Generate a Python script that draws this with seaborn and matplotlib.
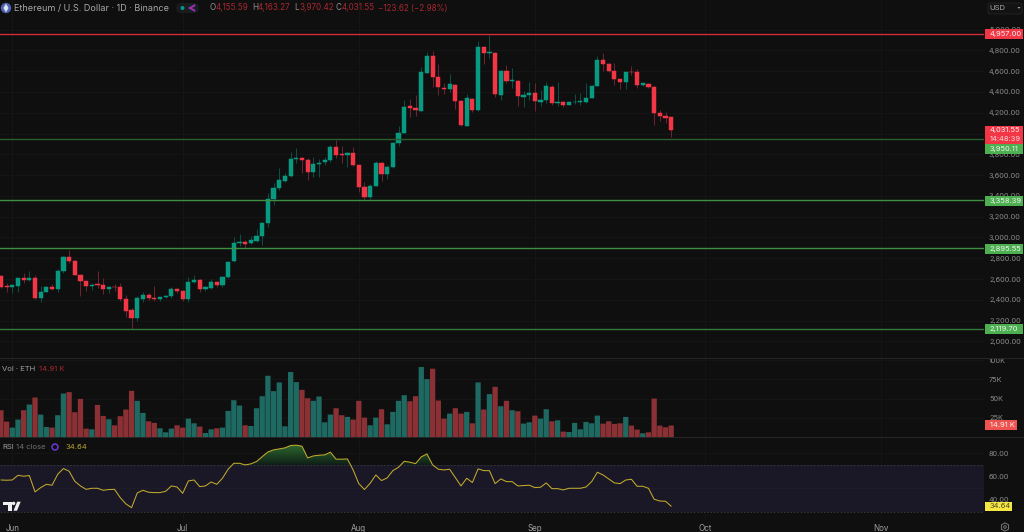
import numpy as np
import pandas as pd
import seaborn as sns
import matplotlib
matplotlib.use("Agg")
import matplotlib.pyplot as plt
from matplotlib.colors import LinearSegmentedColormap
from matplotlib.patches import Rectangle, Circle, Polygon, FancyBboxPatch, RegularPolygon
from matplotlib.path import Path
from matplotlib.ticker import FuncFormatter
from matplotlib.transforms import Affine2D

# ETH/USD daily session data, day 0 = 1 June
days = list(range(-2, 117))

open_ = [2630, 2530, 2524, 2533, 2607, 2591, 2607, 2415, 2479, 2524, 2508, 2678, 2815, 2770, 2639, 2578, 2533,
         2549, 2543, 2508, 2527, 2520, 2405, 2299, 2226, 2411, 2447, 2421, 2411, 2424, 2434, 2501, 2482, 2405,
         2572, 2591, 2504, 2517, 2572, 2540, 2617, 2770, 2950, 2956, 2944, 2969, 3014, 3136, 3367, 3479, 3546,
         3591, 3751, 3764, 3745, 3630, 3707, 3723, 3742, 3873, 3800, 3793, 3809, 3694, 3485, 3393, 3498, 3716,
         3610, 3681, 3905, 4008, 4261, 4245, 4220, 4582, 4745, 4547, 4434, 4425, 4470, 4312, 4075, 4332, 4226,
         4829, 4777, 4777, 4373, 4601, 4508, 4508, 4354, 4370, 4390, 4306, 4322, 4450, 4297, 4303, 4274, 4303,
         4303, 4303, 4345, 4460, 4710, 4665, 4604, 4524, 4499, 4595, 4588, 4466, 4479, 4447, 4197, 4165, 4155.59]
high = [2639, 2559, 2543, 2613, 2655, 2678, 2639, 2533, 2533, 2553, 2694, 2822, 2879, 2783, 2649, 2585, 2559,
        2681, 2613, 2533, 2553, 2565, 2447, 2318, 2437, 2479, 2463, 2533, 2431, 2447, 2520, 2511, 2495, 2617,
        2636, 2597, 2533, 2604, 2585, 2630, 2777, 3001, 3033, 2976, 3014, 3078, 3149, 3425, 3521, 3671, 3617,
        3819, 3857, 3777, 3761, 3777, 3751, 3771, 3889, 3937, 3880, 3825, 3873, 3700, 3537, 3514, 3739, 3723,
        3694, 3921, 4072, 4322, 4329, 4370, 4636, 4787, 4793, 4668, 4482, 4572, 4476, 4322, 4380, 4338, 4890,
        4835, 4947, 4781, 4611, 4659, 4627, 4511, 4412, 4492, 4482, 4418, 4492, 4466, 4492, 4309, 4309, 4380,
        4386, 4482, 4466, 4745, 4771, 4681, 4675, 4528, 4595, 4649, 4617, 4489, 4489, 4457, 4226, 4203, 4163.27]
low = [2511, 2479, 2469, 2479, 2565, 2585, 2405, 2383, 2472, 2495, 2479, 2655, 2751, 2636, 2440, 2488, 2495,
       2511, 2456, 2469, 2488, 2392, 2232, 2120, 2197, 2383, 2399, 2392, 2392, 2415, 2421, 2463, 2392, 2379,
       2559, 2479, 2488, 2501, 2520, 2527, 2610, 2764, 2918, 2896, 2937, 2960, 2931, 3104, 3312, 3457, 3537,
       3578, 3713, 3623, 3553, 3585, 3585, 3697, 3729, 3761, 3713, 3681, 3691, 3441, 3373, 3367, 3495, 3543,
       3562, 3665, 3880, 4002, 4162, 4168, 4216, 4579, 4450, 4370, 4380, 4402, 4232, 4072, 4072, 4207, 4220,
       4665, 4723, 4348, 4322, 4482, 4434, 4264, 4258, 4322, 4220, 4264, 4290, 4271, 4264, 4252, 4271, 4284,
       4274, 4290, 4338, 4457, 4604, 4595, 4466, 4428, 4428, 4563, 4441, 4460, 4441, 4078, 4120, 4098, 3970.42]
close = [2527, 2527, 2540, 2607, 2591, 2607, 2415, 2479, 2527, 2504, 2681, 2815, 2770, 2642, 2578, 2530, 2546,
         2543, 2508, 2524, 2520, 2405, 2296, 2229, 2415, 2450, 2418, 2411, 2424, 2434, 2501, 2485, 2405, 2572,
         2591, 2508, 2520, 2572, 2543, 2617, 2767, 2950, 2956, 2940, 2973, 3014, 3139, 3370, 3476, 3550, 3594,
         3755, 3764, 3745, 3630, 3707, 3719, 3742, 3873, 3793, 3796, 3809, 3697, 3489, 3393, 3498, 3719, 3610,
         3681, 3909, 4008, 4258, 4248, 4226, 4588, 4745, 4547, 4444, 4425, 4473, 4312, 4078, 4338, 4223, 4829,
         4777, 4781, 4380, 4601, 4508, 4511, 4357, 4370, 4393, 4312, 4322, 4454, 4297, 4306, 4274, 4303, 4306,
         4309, 4345, 4460, 4710, 4665, 4604, 4524, 4499, 4592, 4592, 4470, 4482, 4447, 4200, 4165, 4152, 4031.55]

volume_k = [34.8, 20, 12.2, 22.6, 34.8, 42.2, 51.3, 29.1, 13, 12.2, 28.3, 56.5, 58.3, 32.2, 49.6, 10.9, 10,
            41.7, 27.4, 23, 15.2, 27, 35.7, 60, 47, 31.3, 20.4, 18.3, 11.3, 6.1, 10.9, 15.2, 12.2, 23.9,
            17.8, 13.5, 5.2, 10, 11.3, 12.2, 33.9, 47.8, 40.9, 15.2, 14.3, 37.4, 53, 79.6, 59.6, 70.9, 13.9,
            84.4, 71.3, 61.3, 50.4, 47, 52.6, 19.1, 29.1, 37.4, 28.3, 26.1, 22.6, 47, 25.2, 15.2, 25.2, 36.1,
            16.5, 32.6, 47, 54.3, 46.5, 53, 90.9, 75.2, 88.7, 47.4, 23.9, 30.4, 37.4, 30.4, 32.6, 17.8, 70.9,
            35.7, 55.7, 65.2, 40, 47, 34.8, 33.5, 17.4, 19.1, 27.8, 23.9, 36.1, 20.4, 21.7, 7, 6.5, 18.3,
            10, 19.6, 17.8, 27.8, 17.4, 20.4, 17, 17.8, 26.1, 14.8, 9.6, 4.8, 6.1, 50, 14.8, 12.6, 14.91]

rsi = [57.1, 56.9, 57.1, 61.1, 60.3, 60.9, 46.9, 50.6, 53.4, 52.6, 62.0, 66.9, 64.6, 56.0, 52.0, 49.1, 50.0,
       50.0, 48.3, 48.9, 49.1, 42.0, 36.6, 33.4, 46.0, 48.3, 46.6, 46.3, 46.3, 47.4, 52.0, 51.1, 45.7, 56.3,
       57.1, 51.4, 52.0, 55.4, 53.4, 58.6, 66.3, 71.4, 71.4, 70.0, 70.9, 72.9, 77.1, 81.1, 82.9, 83.7, 84.6,
       86.6, 86.9, 86.0, 76.0, 77.7, 78.3, 78.6, 80.9, 74.9, 74.9, 75.1, 65.7, 54.0, 48.9, 54.3, 61.4, 56.6,
       58.9, 65.1, 68.0, 73.1, 72.3, 71.1, 76.9, 79.4, 70.0, 66.3, 65.7, 66.3, 59.1, 52.0, 58.6, 54.9, 66.6,
       65.1, 65.1, 54.0, 58.0, 55.7, 55.7, 52.0, 52.3, 52.6, 50.6, 50.9, 54.6, 49.7, 49.7, 48.6, 50.0, 50.0,
       50.0, 51.1, 55.7, 63.7, 61.4, 58.0, 54.6, 54.0, 57.1, 57.7, 51.7, 51.7, 50.0, 40.6, 39.1, 38.9, 34.64]

resistance_level = 4957.00
support_levels = [3950.11, 3358.39, 2895.55, 2119.70]
support_colors = ["#2c5f30", "#3f8f43", "#3f8f43", "#357a39"]

month_days = [0, 30, 61, 92, 122, 153]
month_names = ["Jun", "Jul", "Aug", "Sep", "Oct", "Nov"]
price_ticks = list(range(2000, 5001, 200))
volume_ticks = [25, 50, 75, 100]
rsi_ticks = [40, 60, 80]

BG = "#0f0f0f"
UP, DOWN = "#089981", "#f23645"
UP_WICK, DOWN_WICK = "#0a5248", "#6e2430"
VOL_UP, VOL_DOWN = "#1e6a62", "#8b3135"
GRID = "#161616"
TICK = "#8a8a8a"

sns.set_theme(style="dark", rc={"figure.facecolor": BG, "axes.facecolor": BG, "savefig.facecolor": BG})
plt.rcParams["font.family"] = ["Inter", "DejaVu Sans"]

W, H = 1024, 532
fig = plt.figure(figsize=(W / 100, H / 100), dpi=100)
px = Affine2D().scale(1 / W, -1 / H).translate(0, 1) + fig.transFigure


def panel(top, bottom):
    ax = fig.add_axes([0, 1 - bottom / H, 984 / W, (bottom - top) / H])
    for s in ax.spines.values():
        s.set_visible(False)
    ax.yaxis.tick_right()
    ax.tick_params(axis="y", length=0, pad=3.6, labelsize=5.3, labelcolor=TICK)
    ax.tick_params(axis="x", length=0, bottom=False, labelbottom=False)
    ax.set_xticks(month_days)
    ax.set_xlim(-2.1655, 171.07)
    ax.grid(True, color=GRID, linewidth=0.7)
    ax.set_axisbelow(True)
    return ax


ax_price = panel(0, 358.5)
ax_vol = panel(358.5, 437)
ax_rsi = panel(437, 519)

# Candles: wicks under bodies
d = np.array(days)
o, h, l, c = map(np.array, (open_, high, low, close))
rising = c >= o
ax_price.vlines(d, l, h, colors=np.where(rising, UP_WICK, DOWN_WICK), linewidth=0.7, zorder=2)
body_colors = np.where(rising, UP, DOWN)
ax_price.bar(d, np.abs(c - o), bottom=np.minimum(o, c), width=0.74, color=body_colors,
             edgecolor=body_colors, linewidth=0.35, zorder=3)
ax_price.axhline(resistance_level, color="#d42d3a", linewidth=1.0, zorder=4)
for level, col in zip(support_levels, support_colors):
    ax_price.axhline(level, color=col, linewidth=1.0, zorder=4)
ax_price.set_ylim(1836, 5284)
ax_price.set_yticks(price_ticks)
ax_price.yaxis.set_major_formatter(FuncFormatter(lambda v, _: f"{v:,.2f}"))

# Volume histogram
vol_df = pd.DataFrame({"day": days, "volume": volume_k, "side": np.where(rising, "up", "down")})
sns.barplot(data=vol_df, x="day", y="volume", hue="side", hue_order=["up", "down"],
            palette={"up": VOL_UP, "down": VOL_DOWN}, dodge=False, native_scale=True,
            width=0.93, saturation=1, linewidth=0, errorbar=None, legend=False, ax=ax_vol, zorder=2)
for bar in ax_vol.patches:
    bar.set_snap(False)
ax_vol.set_xlim(-2.1655, 171.07)
ax_vol.set_ylim(0, 102)
ax_vol.set_xlabel("")
ax_vol.set_ylabel("")
ax_vol.set_yticks(volume_ticks)
ax_vol.yaxis.tick_right()
ax_vol.yaxis.set_major_formatter(FuncFormatter(lambda v, _: f"{v:.0f}K"))

# RSI with its 30-70 band and the overbought gradient
rsi_arr = np.array(rsi)
ax_rsi.axhspan(30, 70, facecolor="#1a1726", edgecolor="none", zorder=1)
for lvl in (70, 30):
    ax_rsi.axhline(lvl, color="#3a3a42", linewidth=0.6, linestyle=(0, (2, 2)), zorder=2)
ax_rsi.axhline(50, color="#201e28", linewidth=0.6, zorder=2)
region = ax_rsi.fill_between(d, rsi_arr, 70, where=rsi_arr > 70, interpolate=True, facecolor="none", edgecolor="none")
overbought = LinearSegmentedColormap.from_list("overbought", ["#0f1f17", "#2f6e30"])
shade = ax_rsi.imshow(np.linspace(1, 0, 64).reshape(-1, 1), extent=[-3, 118, 70, 88], aspect="auto",
                      cmap=overbought, zorder=2.5)
shade.set_clip_path(Path.make_compound_path(*region.get_paths()), ax_rsi.transData)
sns.lineplot(x=d, y=rsi_arr, color="#c2ab2c", linewidth=0.75, ax=ax_rsi, zorder=3, errorbar=None)
ax_rsi.set_xlim(-2.1655, 171.07)
ax_rsi.set_ylim(23.7, 93.9)
ax_rsi.set_yticks(rsi_ticks)
ax_rsi.yaxis.set_major_formatter(FuncFormatter(lambda v, _: f"{v:.2f}"))
ax_rsi.set_xticks(month_days)
ax_rsi.set_xticklabels(month_names)
ax_rsi.tick_params(axis="x", labelbottom=True, labelsize=5.8, labelcolor="#a0a0a0", pad=3.5)


def rect(x0, y0, x1, y1, color):
    fig.add_artist(Rectangle((x0, y0), x1 - x0, y1 - y0, transform=px, facecolor=color, edgecolor="none"))


def label(x, y, s, color, size=5.3, ha="left", **kw):
    fig.text(x, y, s, transform=px, color=color, fontsize=size, ha=ha, va="center", **kw)


def badge(y0, y1, text, color, fg="#f4f4f4", x1=1023):
    rect(984.5, y0, x1, y1, color)
    label(989.5, (y0 + y1) / 2, text, fg, size=5.4)


# Panel dividers
rect(0, 358, W, 359, "#262626")
rect(0, 436.7, W, 437.5, "#262626")

# Price-scale badges
badge(29, 39, "4,957.00", DOWN)
rect(984.5, 126, 1023, 144, DOWN)
label(989.5, 130.2, "4,031.55", "#f4f4f4", size=5.4)
label(989.5, 139, "14:48:39", "#f4d9db", size=5.4)
badge(144, 153.5, "3,950.11", "#4caf50")
badge(195.5, 205.5, "3,358.39", "#4caf50")
badge(243.5, 253.5, "2,895.55", "#4caf50")
badge(324, 334, "2,119.70", "#4caf50")
badge(420, 430, "14.91 K", "#ef5350", x1=1017)
badge(501.5, 511, "34.64", "#f5e642", fg="#4a4a2a", x1=1012)

# USD selector and settings glyph
fig.add_artist(FancyBboxPatch((988, 3), 34, 11, boxstyle="round,pad=0,rounding_size=2", transform=px,
                              facecolor="#131313", edgecolor="#242424", linewidth=0.6))
label(989, 8, "USD", "#a8a8a8", size=5.5)
fig.add_artist(Polygon([(1017.5, 7), (1020.5, 7), (1019, 8.8)], transform=px, facecolor="#a8a8a8", edgecolor="none"))
fig.add_artist(RegularPolygon((1005, 527), 6, radius=4.2, transform=px, facecolor="none", edgecolor="#8a8a8a", linewidth=0.6))
fig.add_artist(Circle((1005, 527), 1.3, transform=px, facecolor="none", edgecolor="#8a8a8a", linewidth=0.6))

# Chart header
fig.add_artist(Circle((6, 8), 5.2, transform=px, facecolor="#5063ad", edgecolor="none"))
fig.add_artist(Polygon([(6, 3.8), (8.6, 8), (6, 12.2), (3.4, 8)], transform=px, facecolor="#dfe4f5", edgecolor="none"))
label(14, 8, "Ethereum / U.S. Dollar · 1D · Binance", "#a8a8a8", size=6.5)
fig.add_artist(FancyBboxPatch((176, 3), 23, 10, boxstyle="round,pad=0,rounding_size=5", transform=px,
                              facecolor="#181c1e", edgecolor="none"))
fig.add_artist(Circle((182.5, 8), 2, transform=px, facecolor=UP, edgecolor="none"))
fig.add_artist(Polygon([(195, 4.5), (188.5, 8), (195, 11.5), (195, 10), (191, 8), (195, 6)], transform=px,
                       facecolor="#9c32b5", edgecolor="#9c32b5", linewidth=0.5))
HEAD_RED = "#a82731"
for lx, letter, vx, value in [(209, "O", 215, "4,155.59"), (252, "H", 258, "4,163.27"),
                              (294, "L", 299, "3,970.42"), (335, "C", 341, "4,031.55")]:
    label(lx, 8, letter, "#8f8f8f", size=5.8)
    label(vx, 8, value, HEAD_RED, size=5.8)
label(378, 8, "−123.62 (−2.98%)", HEAD_RED, size=5.8)

# Pane captions
label(2, 369, "Vol · ETH", "#a0a0a0", size=5.5)
label(39, 369, "14.91 K", HEAD_RED, size=5.5)
label(2, 447, "RSI", "#a0a0a0", size=5.5)
label(15.5, 447, "14 close", "#6f6f6f", size=5.5)
fig.add_artist(Circle((55, 447), 3, transform=px, facecolor="none", edgecolor="#6a35d8", linewidth=1.1))
label(66, 447, "34.64", "#b8a22e", size=5.5)

# Watermark logo
fig.add_artist(Polygon([(3.3, 501.7), (11.5, 501.7), (11.5, 510.7), (7.5, 510.7), (7.5, 505), (3.3, 505)], transform=px,
                       facecolor="#f0f0f0", edgecolor="none"))
fig.add_artist(Circle((13.6, 503.4), 1.7, transform=px, facecolor="#f0f0f0", edgecolor="none"))
fig.add_artist(Polygon([(13.5, 510.7), (17, 510.7), (20.7, 501.7), (17.2, 501.7)], transform=px,
                       facecolor="#f0f0f0", edgecolor="none"))

fig.savefig("out.png", dpi=100)
